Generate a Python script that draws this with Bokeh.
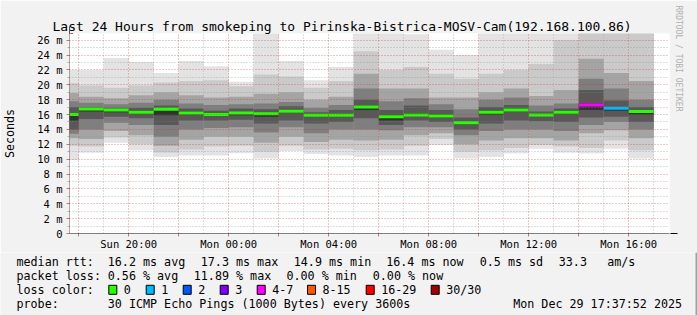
import math
from bokeh.plotting import figure
from bokeh.layouts import column
from bokeh.models import (FixedTicker, Arrow, NormalHead, ColumnDataSource,
                          Range1d, Title)
from bokeh.core.properties import value
from bokeh.embed import file_html
from bokeh.resources import INLINE

# ---------------- data ----------------
# bin start hour, counted from Sun 00:00 (17 = Sun 17:00 ... 40 = Mon 16:00)
HOURS = list(range(17, 41))
MEDIAN = [16.0, 16.75, 16.6, 16.3, 16.7, 16.2, 16.0,
          16.2, 16.1, 16.45, 15.9, 15.9, 17.0, 15.7, 15.95, 15.8, 14.9,
          16.3, 16.6, 15.95, 16.3, 17.3, 16.85, 16.4]
LOSS = [0] * 21 + [4, 1, 0]   # lost pings out of 30 per bin

# smoke: ping-pair envelopes (lower / upper), ms, outermost pair first
P1_LO = [9.9, 10.85, 12.2, 11.2, 10.3, 10.5, 10.5,
         10.8, 10.1, 11.1, 10.7, 10.5, 10.3, 10.5, 10.5, 11.9, 10.1,
         10.3, 10.75, 11.4, 10.85, 10.75, 11.4, 10.1]
P1_HI = [22.0, 22.0, 23.6, 23.05, 21.6, 23.2, 22.5,
         20.4, 28.0, 23.2, 20.6, 22.4, 28.0, 28.0, 26.8, 24.7, 24.0,
         28.0, 28.0, 28.0, 28.0, 28.0, 28.0, 28.0]
P3_LO = [11.8, 11.7, 12.9, 12.0, 10.9, 11.3, 11.7,
         11.8, 11.0, 11.8, 11.3, 11.4, 11.2, 11.3, 11.8, 12.7, 11.0,
         11.2, 11.5, 11.9, 11.7, 11.5, 12.5, 11.2]
P3_HI = [20.2, 19.9, 19.6, 19.9, 20.3, 20.5, 20.6,
         19.8, 21.4, 21.1, 19.6, 20.5, 24.5, 22.0, 22.4, 21.5, 20.8,
         21.5, 22.0, 22.8, 26.0, 28.0, 28.0, 28.0]
P6_LO = [12.8, 12.7, 13.8, 13.2, 11.8, 12.6, 13.0,
         13.0, 12.2, 13.0, 12.3, 12.6, 12.5, 12.6, 13.2, 13.5, 12.0,
         12.5, 12.8, 12.8, 12.5, 13.5, 13.9, 12.8]
P6_HI = [18.9, 18.4, 18.2, 18.6, 19.0, 18.6, 18.3,
         18.4, 18.8, 19.0, 18.0, 18.4, 21.5, 19.5, 19.5, 18.3, 18.3,
         19.0, 19.5, 18.5, 19.3, 23.5, 21.6, 20.5]
P9_LO = [13.4, 14.0, 14.9, 14.6, 13.0, 14.0, 14.2,
         14.3, 13.6, 14.3, 13.5, 14.0, 14.0, 13.9, 14.3, 14.3, 13.2,
         13.8, 14.0, 14.0, 13.8, 14.6, 15.0, 14.0]
P9_HI = [17.8, 17.6, 17.4, 17.6, 18.0, 17.5, 17.3,
         17.4, 17.5, 17.7, 16.9, 17.3, 19.5, 17.8, 18.2, 17.4, 16.7,
         18.0, 18.3, 17.2, 17.5, 20.8, 19.5, 18.0]
P12_LO = [14.0, 15.4, 15.7, 15.5, 14.6, 15.2, 15.2,
          15.3, 14.8, 15.2, 14.8, 15.0, 15.5, 14.6, 15.2, 15.0, 14.0,
          14.8, 15.2, 15.1, 15.0, 15.6, 15.7, 15.0]
P12_HI = [17.0, 17.0, 16.9, 16.9, 17.2, 16.8, 16.5,
          16.8, 16.7, 17.1, 16.3, 16.6, 18.0, 16.6, 17.2, 16.6, 15.6,
          17.0, 17.3, 16.4, 16.8, 19.3, 17.9, 17.0]
P15_LO = [15.2, 16.4, 16.3, 16.1, 15.9, 16.0, 15.8,
          15.9, 15.7, 16.2, 15.7, 15.7, 16.6, 15.2, 15.8, 15.6, 14.7,
          16.0, 16.4, 15.8, 16.1, 16.6, 16.5, 16.0]
P15_HI = [16.2, 16.9, 16.7, 16.5, 16.8, 16.4, 16.2,
          16.3, 16.2, 16.6, 16.0, 16.0, 17.2, 15.9, 16.2, 16.0, 15.0,
          16.5, 16.8, 16.1, 16.5, 17.5, 17.0, 16.6]

Y_TICKS = list(range(0, 27, 2))
Y_LABELS = ["0"] + ["%d m" % v for v in Y_TICKS[1:]]
X_TICKS = [20, 24, 28, 32, 36, 40]
X_LABELS = ["Sun 20:00", "Mon 00:00", "Mon 04:00", "Mon 08:00", "Mon 12:00", "Mon 16:00"]

TITLE = "Last 24 Hours from smokeping to Pirinska-Bistrica-MOSV-Cam(192.168.100.86)"
RTT_ITEMS = ["16.2 ms avg", "17.3 ms max", "14.9 ms min", "16.4 ms now",
             "0.5 ms sd", "33.3", "am/s"]
LOSS_ITEMS = ["0.56 % avg", "11.89 % max", "0.00 % min", "0.00 % now"]
LC_LABELS = ["0", "1", "2", "3", "4-7", "8-15", "16-29", "30/30"]
LC_COLORS = ["#26ff00", "#00b8ff", "#0059ff", "#7e00ff", "#ff00ff",
             "#ff5500", "#ff0000", "#a00000"]
PROBE = "30 ICMP Echo Pings (1000 Bytes) every 3600s"
STAMP = "Mon Dec 29 17:37:52 2025"

# ---------------- layout ----------------
X0 = 17 + 37 / 60 + 52 / 3600
SPAN_H = 24
YMAX = 26.9
FL, FT, FW, FH = 67, 33, 600, 200
W, H = 697, 315
TOP_H = 250          # chart figure height
LEG_H = H - TOP_H    # legend strip height
BG = "#f2f2f2"
SHADE = "#a0a0a0"
MONO = "DejaVu Sans Mono"


def dx(cx):
    return X0 + (cx - FL) * SPAN_H / FW


def dy(cy):
    return (FT + FH - cy) * YMAX / FH


def loss_color(n):
    if n == 0:
        return LC_COLORS[0]
    if n <= 3:
        return LC_COLORS[n]
    if n <= 7:
        return LC_COLORS[4]
    if n <= 15:
        return LC_COLORS[5]
    if n <= 29:
        return LC_COLORS[6]
    return LC_COLORS[7]


p = figure(frame_width=FW, frame_height=FH,
           x_range=Range1d(X0, X0 + SPAN_H), y_range=Range1d(0, YMAX),
           output_backend="svg", toolbar_location=None,
           min_border_left=FL, min_border_right=W - FL - FW,
           min_border_top=FT, min_border_bottom=TOP_H - FT - FH)
p.frame_align = False
p.background_fill_color = "white"
p.border_fill_color = BG
p.outline_line_color = None

# the built-in title panel is the one next to the frame: make it an invisible
# spacer and put the real title in the panel stacked above it
p.title.text = "."
p.title.text_font = MONO
p.title.text_font_size = "10px"
p.title.text_alpha = 0
p.title.standoff = 1
p.add_layout(Title(text=TITLE, align="left", offset=-17, text_font=MONO,
                   text_font_size="13px", text_font_style="normal",
                   text_color="black", standoff=0), "above")

# watermark on the right
p.add_layout(Title(text="RRDTOOL / TOBI OETIKER", align="left", offset=-28,
                   text_font=MONO, text_font_size="8px", text_font_style="normal",
                   text_color="#b0b0b0", standoff=8), "right")

# smoke
bands = [(P1_LO, P1_HI, "#e3e3e3"), (P3_LO, P3_HI, "#cacaca"),
         (P6_LO, P6_HI, "#a4a4a4"), (P9_LO, P9_HI, "#7e7e7e"),
         (P12_LO, P12_HI, "#585858"), (P15_LO, P15_HI, "#323232")]
for lo, hi, col in bands:
    src = ColumnDataSource(dict(left=HOURS, right=[h + 1 for h in HOURS],
                                bottom=lo, top=hi))
    p.quad(left="left", right="right", bottom="bottom", top="top",
           source=src, fill_color=col, line_color=None)

# median
msrc = ColumnDataSource(dict(x0=HOURS, x1=[h + 1 for h in HOURS],
                             y=MEDIAN, c=[loss_color(n) for n in LOSS]))
p.segment(x0="x0", x1="x1", y0="y", y1="y", color="c", line_width=3,
          source=msrc)

# axes
p.xaxis.ticker = FixedTicker(ticks=list(range(18, 41, 2)),
                             minor_ticks=list(range(19, 42, 2)))
p.xaxis.major_label_overrides = {t: (X_LABELS[X_TICKS.index(t)] if t in X_TICKS else "")
                                 for t in range(18, 41, 2)}
p.yaxis.ticker = FixedTicker(ticks=Y_TICKS, minor_ticks=list(range(1, 27, 2)))
p.yaxis.major_label_overrides = dict(zip(Y_TICKS, Y_LABELS))
for ax in (p.xaxis, p.yaxis):
    ax.axis_line_color = None
    ax.major_label_text_font = MONO
    ax.major_label_text_font_size = "10.5px"
    ax.major_label_text_color = "black"
    ax.major_tick_in = 0
    ax.minor_tick_in = 0
    ax.major_tick_line_color = "#c07878"
p.xaxis.major_tick_out = 3
p.xaxis.minor_tick_line_color = None
p.xaxis.major_label_standoff = 0
p.yaxis.major_tick_out = 3
p.yaxis.minor_tick_out = 2
p.yaxis.minor_tick_line_color = "#b0b0b0"
p.yaxis.major_label_standoff = 4
p.yaxis.axis_label = "Seconds"
p.yaxis.axis_label_text_font = MONO
p.yaxis.axis_label_text_font_size = "11.7px"
p.yaxis.axis_label_text_font_style = "normal"
p.yaxis.axis_label_text_color = "black"
p.yaxis.axis_label_standoff = 17

# grids (drawn over the smoke, like rrdtool)
p.xgrid.ticker = FixedTicker(ticks=list(range(18, 41, 2)),
                             minor_ticks=list(range(19, 42, 2)))
p.ygrid.ticker = FixedTicker(ticks=Y_TICKS[1:], minor_ticks=list(range(1, 27, 2)))
for g in (p.xgrid, p.ygrid):
    g.level = "overlay"
    g.grid_line_color = "#c03030"
    g.grid_line_alpha = 0.55
    g.grid_line_dash = "1 2"
    g.minor_grid_line_color = "#8c8c8c"
    g.minor_grid_line_alpha = 0.55
    g.minor_grid_line_dash = "1 2"

# axis lines with arrows
p.add_layout(Arrow(x_start=dx(63), y_start=0, x_end=dx(675), y_end=0,
                   line_color="black", line_width=1,
                   end=NormalHead(size=7, fill_color="#8b1010", line_color="#8b1010")))
p.add_layout(Arrow(x_start=X0, y_start=dy(237), x_end=X0, y_end=dy(26),
                   line_color="#555555", line_width=1,
                   end=NormalHead(size=7, fill_color="#8b1010", line_color="#8b1010")))
# rrdtool frame shade along the right edge of the image
p.add_layout(Arrow(x_start=dx(W - 1), y_start=dy(0), x_end=dx(W - 1), y_end=dy(TOP_H),
                   line_color=SHADE, line_width=2, end=None))

# ---------------- legend strip (pixel coordinates) ----------------
q = figure(frame_width=W, frame_height=LEG_H, x_range=Range1d(0, W),
           y_range=Range1d(H, TOP_H), output_backend="svg",
           toolbar_location=None, min_border=0)
q.frame_align = False
q.axis.visible = False
q.grid.visible = False
q.outline_line_color = None
q.background_fill_color = BG
q.border_fill_color = BG

ROW = [259.3, 273.3, 287.3, 301.0]
tx, ty, tt = [], [], []


def put(x, y, s):
    tx.append(x)
    ty.append(y)
    tt.append(s)


put(16, ROW[0], "median rtt:")
for x, s in zip([107.3, 200.3, 293.3, 385.7, 479.3, 558.3, 606.7], RTT_ITEMS):
    put(x, ROW[0], s)
put(16, ROW[1], "packet loss:")
for x, s in zip([107.3, 193.3, 286.0, 372.3], LOSS_ITEMS):
    put(x, ROW[1], s)
put(16, ROW[2], "loss color:")
BOX_X = [108.3, 145.7, 182.7, 219.7, 256.7, 307.0, 365.7, 430.7]
for x, s in zip(BOX_X, LC_LABELS):
    put(x + 15, ROW[2], s)
put(16, ROW[3], "probe:")
put(107.3, ROW[3], PROBE)
put(512.7, ROW[3], STAMP)

q.text(x=tx, y=ty, text=tt, text_font=value(MONO), text_font_size=value("11.7px"),
       text_baseline="middle", text_align="left", text_color="black")
q.quad(left=BOX_X, right=[x + 8 for x in BOX_X],
       bottom=[ROW[2] + 4.5] * len(BOX_X), top=[ROW[2] - 4.5] * len(BOX_X),
       fill_color=LC_COLORS, line_color="black", line_width=1)
# rrdtool frame shade: bottom and right edges
q.quad(left=[0, W - 2], right=[W, W], bottom=[H, H], top=[H - 2, TOP_H],
       fill_color=SHADE, line_color=None)

page = column(p, q, spacing=0)
open("out.html", "w").write(file_html(page, INLINE))
